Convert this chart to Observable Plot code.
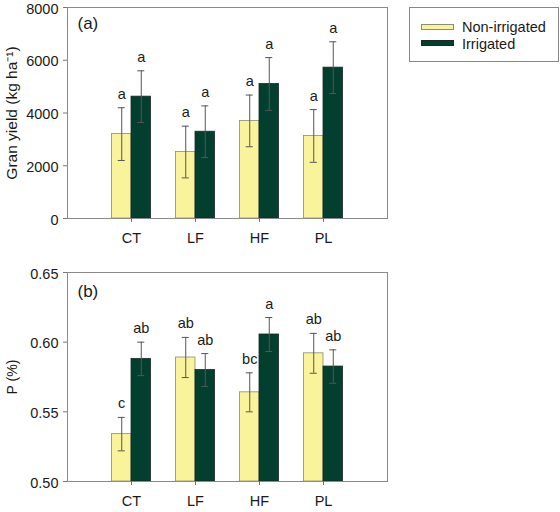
<!DOCTYPE html>
<html>
<head>
<meta charset="utf-8">
<script src="https://cdn.jsdelivr.net/npm/d3@7"></script>
<script src="https://cdn.jsdelivr.net/npm/@observablehq/plot@0.6"></script>
<style>
  html, body { margin: 0; padding: 0; background: #fff; }
  #wrap { position: relative; width: 560px; height: 512px; font-family: "Liberation Sans", Arial, sans-serif; color: #1a1a1a; }
  #wrap svg { display: block; }
  .legend { position: absolute; left: 409px; top: 7px; width: 150px; height: 55px; box-sizing: border-box; border: 1px solid #888; background: #fff; }
  .legend .sw { position: absolute; left: 11px; width: 33px; height: 6px; box-sizing: border-box; }
  .legend .lb { position: absolute; left: 52px; font-size: 14.5px; line-height: 17px; }
</style>
</head>
<body>
<div id="wrap"></div>
<script>
// Treatments along the x axis
const treatments = ["CT", "LF", "HF", "PL"];
const seriesNames = ["Non-irrigated", "Irrigated"];
const seriesColors = ["#f9f39b", "#033f2e"];
const seriesStrokes = ["#8c8c74", "#1c2a24"];

// (a) grain yield, kg ha-1: means, standard errors, significance letters
const yieldNon = [3200, 2520, 3700, 3130];
const yieldNonErr = [1000, 980, 980, 1000];
const yieldIrr = [4620, 3290, 5100, 5720];
const yieldIrrErr = [980, 980, 1000, 980];
const yieldNonLetters = ["a", "a", "a", "a"];
const yieldIrrLetters = ["a", "a", "a", "a"];
const yieldTicks = [0, 2000, 4000, 6000, 8000];

// (b) grain P concentration, %
const pNon = [0.534, 0.589, 0.564, 0.592];
const pNonErr = [0.012, 0.0144, 0.014, 0.0143];
const pIrr = [0.588, 0.580, 0.6055, 0.5825];
const pIrrErr = [0.012, 0.0118, 0.0122, 0.012];
const pNonLetters = ["c", "ab", "bc", "ab"];
const pIrrLetters = ["ab", "ab", "a", "ab"];
const pTicks = [0.50, 0.55, 0.60, 0.65];

const barW = 0.305;   // bar width in category units
const capW = 0.055;   // half-width of error bar caps
const FS = 14.5;      // base font size
const ink = "#1a1a1a";

function rows(nonVals, nonErr, nonLet, irrVals, irrErr, irrLet) {
  const out = [];
  treatments.forEach((t, i) => {
    out.push({t, pos: i + 1, s: 0, v: nonVals[i], e: nonErr[i], l: nonLet[i]});
    out.push({t, pos: i + 1, s: 1, v: irrVals[i], e: irrErr[i], l: irrLet[i]});
  });
  return out;
}

function panel({data, height, marginTop, marginBottom, yDomain, yTicks, yFormat, yLabel, labelSize, tag, tagDy}) {
  const x1 = d => d.s === 0 ? d.pos - barW : d.pos;
  const x2 = d => d.s === 0 ? d.pos : d.pos + barW;
  const xc = d => d.pos + (d.s === 0 ? -barW / 2 : barW / 2);
  return Plot.plot({
    width: 400,
    height,
    marginLeft: 67,
    marginRight: 13,
    marginTop,
    marginBottom,
    style: {fontFamily: "'Liberation Sans', Arial, sans-serif", fontSize: FS + "px", color: ink, background: "transparent", overflow: "visible"},
    x: {type: "linear", domain: [0, 5]},
    y: {domain: yDomain},
    marks: [
      Plot.rectY(data, {
        x1, x2, y1: yDomain[0], y2: "v",
        fill: d => seriesColors[d.s],
        stroke: d => seriesStrokes[d.s],
        strokeWidth: 0.8
      }),
      // error bars with caps
      Plot.ruleX(data, {x: xc, y1: d => d.v - d.e, y2: d => d.v + d.e, stroke: "#555", strokeWidth: 1}),
      Plot.ruleY(data, {y: d => d.v + d.e, x1: d => xc(d) - capW, x2: d => xc(d) + capW, stroke: "#555", strokeWidth: 1}),
      Plot.ruleY(data, {y: d => d.v - d.e, x1: d => xc(d) - capW, x2: d => xc(d) + capW, stroke: "#555", strokeWidth: 1}),
      // significance letters
      Plot.text(data, {x: xc, y: d => d.v + d.e, text: "l", dy: -9, lineAnchor: "bottom", fill: ink, fontSize: FS}),
      // panel tag
      Plot.text([tag], {frameAnchor: "top-left", text: d => d, dx: 10, dy: tagDy, lineAnchor: "top", textAnchor: "start", fontSize: 17, fill: ink}),
      Plot.frame({stroke: "#8a8a8a", strokeWidth: 1}),
      // y ticks, tick labels and title
      Plot.axisY({ticks: yTicks, tickFormat: () => "", tickSize: 4, stroke: "#777", label: null}),
      Plot.text(yTicks, {y: d => d, frameAnchor: "left", dx: -9, dy: 1.5, textAnchor: "end", lineAnchor: "middle", text: yFormat, fill: ink, fontSize: FS}),
      Plot.text([yLabel], {frameAnchor: "left", text: d => d, rotate: -90, dx: -55, textAnchor: "middle", lineAnchor: "middle", fill: ink, fontSize: labelSize}),
      // x ticks and treatment labels
      Plot.axisX({
        ticks: treatments.map((t, i) => i + 1),
        tickFormat: v => treatments[v - 1],
        tickSize: 4, tickPadding: 10,
        stroke: "#777", fill: ink, fontSize: FS,
        label: null
      })
    ]
  });
}

const wrap = document.getElementById("wrap");

wrap.appendChild(panel({
  data: rows(yieldNon, yieldNonErr, yieldNonLetters, yieldIrr, yieldIrrErr, yieldIrrLetters),
  height: 250, marginTop: 7, marginBottom: 32,
  yDomain: [0, 8000], yTicks: yieldTicks, yFormat: d3.format("d"),
  yLabel: "Gran yield (kg ha\u207B\u00B9)", labelSize: 15.5, tag: "(a)", tagDy: 9
}));

wrap.appendChild(panel({
  data: rows(pNon, pNonErr, pNonLetters, pIrr, pIrrErr, pIrrLetters),
  height: 262, marginTop: 22, marginBottom: 31,
  yDomain: [0.50, 0.65], yTicks: pTicks, yFormat: d3.format(".2f"),
  yLabel: "P (%)", labelSize: 14, tag: "(b)", tagDy: 12
}));

// Legend box
const legend = document.createElement("div");
legend.className = "legend";
seriesNames.forEach((name, i) => {
  const sw = document.createElement("div");
  sw.className = "sw";
  sw.style.top = (16 + i * 16) + "px";
  sw.style.background = seriesColors[i];
  sw.style.border = "1px solid " + seriesStrokes[i];
  legend.appendChild(sw);
  const lb = document.createElement("div");
  lb.className = "lb";
  lb.style.top = (10.5 + i * 17) + "px";
  lb.textContent = name;
  legend.appendChild(lb);
});
wrap.appendChild(legend);
</script>
</body>
</html>
